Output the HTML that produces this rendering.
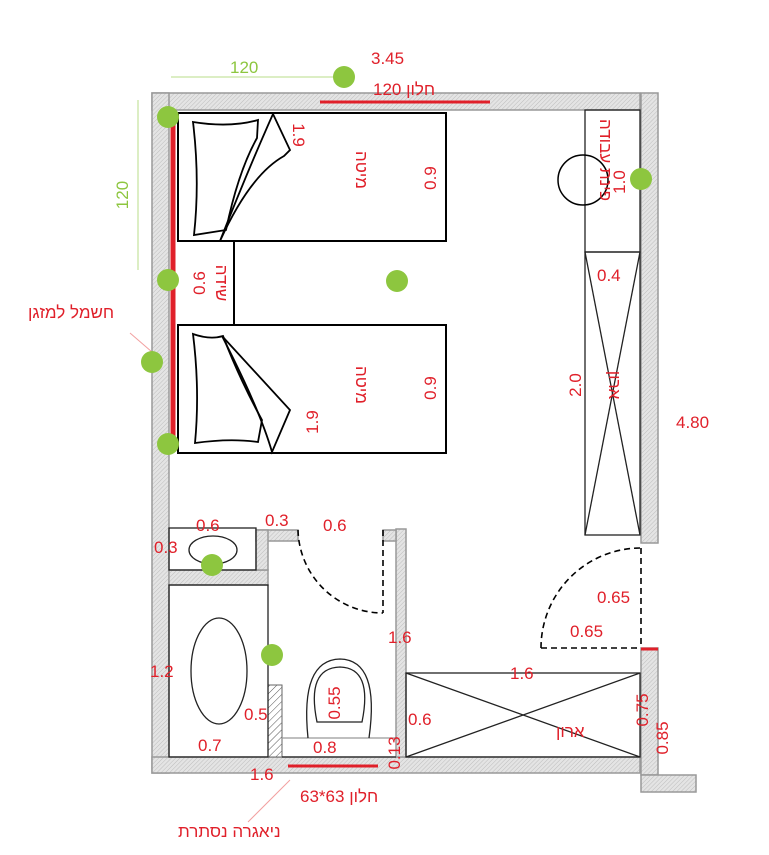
<!DOCTYPE html>
<html><head><meta charset="utf-8"><style>
body{margin:0;background:#fff}
svg text{font-family:"Liberation Sans","Noto Sans CJK SC",sans-serif;fill:#e0202a;font-size:17px}
</style></head><body>
<svg width="769" height="850" viewBox="0 0 769 850" xmlns="http://www.w3.org/2000/svg">
<defs>
<pattern id="h" width="3" height="3" patternUnits="userSpaceOnUse" patternTransform="rotate(45)">
<rect width="3" height="3" fill="#e4e4e4"/><line x1="0" y1="0" x2="0" y2="3" stroke="#bdbdbd" stroke-width="1"/></pattern>
<pattern id="h2" width="5" height="5" patternUnits="userSpaceOnUse" patternTransform="rotate(45)">
<rect width="5" height="5" fill="#fff"/><line x1="0" y1="0" x2="0" y2="5" stroke="#555" stroke-width="1"/></pattern>
</defs>
<g fill="url(#h)" stroke="#999" stroke-width="1.5">
<rect x="152" y="93" width="488" height="17"/>
<rect x="152" y="93" width="17" height="680"/>
<rect x="641" y="93" width="17" height="450"/>
<rect x="152" y="757" width="488" height="16"/>
<rect x="641" y="648" width="17" height="127"/>
<rect x="641" y="775" width="55" height="17"/>
<rect x="396" y="529" width="10" height="228"/>
<rect x="256" y="530" width="42" height="11"/>
<rect x="383" y="530" width="13" height="11"/>
<rect x="169" y="570" width="99" height="15"/>
<rect x="256" y="530" width="12" height="40"/>
</g>
<rect x="268" y="685" width="14" height="72" fill="url(#h2)" stroke="#666"/>
<line x1="173" y1="110" x2="173" y2="446" stroke="#e0202a" stroke-width="5"/>
<line x1="320" y1="102" x2="490" y2="102" stroke="#e0202a" stroke-width="3"/>
<line x1="288" y1="766" x2="378" y2="766" stroke="#e0202a" stroke-width="3"/>
<line x1="641" y1="649" x2="658" y2="649" stroke="#e0202a" stroke-width="3"/>
<g fill="none" stroke="#000" stroke-width="2">
<rect x="178" y="113" width="268" height="128"/>
<rect x="178" y="325" width="268" height="128"/>
<line x1="234" y1="241" x2="234" y2="325"/>
<line x1="178" y1="325" x2="234" y2="325"/>
<path d="M193 122 Q230 128 258 120 L257 138 Q238 172 226 230 L194 235 Q200 180 193 122Z" stroke-width="1.8"/>
<path d="M273 114 L290 150 L284 156 Q250 175 220 241 Q248 170 273 114Z" stroke-width="1.8"/>
<path d="M193 334 Q200 390 195 443 Q230 438 258 442 L262 420 Q240 380 223 336 Q210 340 193 334Z" stroke-width="1.8"/>
<path d="M222 336 L290 410 L272 452 Q260 410 222 336Z" stroke-width="1.8"/>
</g>
<g fill="none" stroke="#222" stroke-width="1.3">
<rect x="585" y="110" width="55" height="142"/>
<rect x="585" y="252" width="55" height="283"/>
<line x1="585" y1="252" x2="640" y2="535"/><line x1="640" y1="252" x2="585" y2="535"/>
<rect x="406" y="673" width="234" height="84"/>
<line x1="406" y1="673" x2="640" y2="757"/><line x1="640" y1="673" x2="406" y2="757"/>
<rect x="169" y="528" width="87" height="42"/>
<ellipse cx="213" cy="550" rx="24" ry="14"/>
<rect x="169" y="585" width="99" height="172"/>
<ellipse cx="219" cy="671" rx="28" ry="53"/>
<line x1="282" y1="738" x2="396" y2="738" stroke="#999"/>
<path d="M308 738 Q300 660 340 659 Q380 660 369 738"/>
<path d="M317 722 Q306 668 340 667 Q373 668 362 722Z"/>
<line x1="282" y1="757" x2="396" y2="757"/>
</g>
<circle cx="583" cy="180" r="25" fill="none" stroke="#000" stroke-width="1.5"/>
<g fill="none" stroke="#000" stroke-width="1.6" stroke-dasharray="6,4">
<path d="M541 648 A100 100 0 0 1 641 548"/>
<line x1="541" y1="648" x2="641" y2="648"/>
<line x1="641" y1="548" x2="641" y2="648"/>
<path d="M298 530 A85 85 0 0 0 383 613"/>
<line x1="383" y1="530" x2="383" y2="613"/>
</g>
<line x1="171" y1="77" x2="344" y2="77" stroke="#b8dd8a" stroke-width="1"/>
<line x1="138" y1="100" x2="138" y2="270" stroke="#b8dd8a" stroke-width="1"/>
<line x1="130" y1="333" x2="152" y2="352" stroke="#f2a0a0" stroke-width="1"/>
<line x1="290" y1="780" x2="248" y2="822" stroke="#f2a0a0" stroke-width="1"/>
<g fill="#8dc63f">
<circle cx="344" cy="77" r="11"/><circle cx="168" cy="117" r="11"/><circle cx="168" cy="280" r="11"/>
<circle cx="397" cy="281" r="11"/><circle cx="152" cy="362" r="11"/><circle cx="168" cy="444" r="11"/>
<circle cx="641" cy="179" r="11"/><circle cx="212" cy="565" r="11"/><circle cx="272" cy="655" r="11"/>
</g>
<text x="230" y="73" style="fill:#8dc63f">120</text>
<text transform="translate(128,195) rotate(-90)" text-anchor="middle" style="fill:#8dc63f">120</text>
<text x="371" y="64">3.45</text>
<text x="373" y="95">חלון 120</text>
<text x="28" y="318">חשמל למזגן</text>
<text transform="translate(293,135) rotate(90)" text-anchor="middle">1.9</text>
<text transform="translate(356,170) rotate(90)" text-anchor="middle">מיטה</text>
<text transform="translate(436,178) rotate(-90)" text-anchor="middle">0.9</text>
<text transform="translate(205,283) rotate(-90)" text-anchor="middle">0.6</text>
<text transform="translate(216,283) rotate(90)" text-anchor="middle">שידה</text>
<text transform="translate(356,385) rotate(90)" text-anchor="middle">מיטה</text>
<text transform="translate(436,388) rotate(-90)" text-anchor="middle">0.9</text>
<text transform="translate(318,422) rotate(-90)" text-anchor="middle">1.9</text>
<text transform="translate(600,160) rotate(90)" text-anchor="middle">פינת עבודה</text>
<text transform="translate(625,182) rotate(-90)" text-anchor="middle">1.0</text>
<text x="597" y="281">0.4</text>
<text transform="translate(581,385) rotate(-90)" text-anchor="middle">2.0</text>
<text transform="translate(609,385) rotate(90)" text-anchor="middle">ארון</text>
<text x="676" y="428">4.80</text>
<text x="597" y="603">0.65</text>
<text x="570" y="637">0.65</text>
<text x="510" y="679">1.6</text>
<text x="556" y="737">ארון</text>
<text x="408" y="725">0.6</text>
<text transform="translate(648,710) rotate(-90)" text-anchor="middle">0.75</text>
<text transform="translate(668,738) rotate(-90)" text-anchor="middle">0.85</text>
<text x="196" y="531">0.6</text>
<text x="265" y="526">0.3</text>
<text x="323" y="531">0.6</text>
<text x="154" y="553">0.3</text>
<text x="388" y="643">1.6</text>
<text x="150" y="677">1.2</text>
<text x="244" y="720">0.5</text>
<text transform="translate(340,703) rotate(-90)" text-anchor="middle">0.55</text>
<text x="198" y="751">0.7</text>
<text x="313" y="753">0.8</text>
<text transform="translate(400,753) rotate(-90)" text-anchor="middle">0.13</text>
<text x="250" y="780">1.6</text>
<text x="300" y="802">חלון 63*63</text>
<text x="178" y="837">ניאגרה נסתרת</text>
</svg>
</body></html>
